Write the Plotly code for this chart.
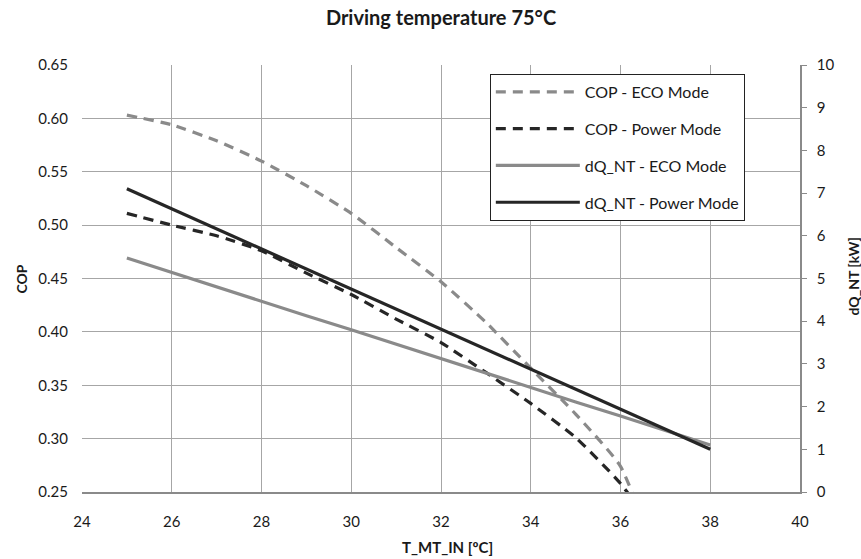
import plotly.graph_objects as go

temps = [25, 26, 27, 28, 29, 30, 31, 32, 33, 34, 35, 36, 37]
cop_eco = [0.603, 0.594, 0.579, 0.560, 0.537, 0.511, 0.479, 0.447, 0.409, 0.366, 0.323, 0.274, 0.165]
cop_power = [0.511, 0.500, 0.490, 0.476, 0.455, 0.435, 0.412, 0.390, 0.362, 0.333, 0.301, 0.258, 0.200]

temps_q = [25, 26, 27, 28, 29, 30, 31, 32, 33, 34, 35, 36, 37, 38]
dq_eco = [5.48, 5.14, 4.81, 4.47, 4.13, 3.80, 3.46, 3.12, 2.79, 2.45, 2.11, 1.78, 1.44, 1.10]
dq_power = [7.10, 6.63, 6.16, 5.69, 5.22, 4.75, 4.28, 3.82, 3.35, 2.88, 2.41, 1.94, 1.47, 1.00]

x_ticks = [24, 26, 28, 30, 32, 34, 36, 38, 40]

GRAY = "#8a8a8a"
DARK = "#262626"
GRID = "#a6a6a6"
FONT = "Lato, Open Sans, sans-serif"
TXT = "#1a1a1a"

fig = go.Figure()
fig.add_trace(go.Scatter(x=temps, y=cop_eco, name="COP - ECO Mode", mode="lines",
                         line=dict(color=GRAY, width=3.2, dash="10px,7px", shape="spline", smoothing=0.5),
                         legendgroup="a"))
fig.add_trace(go.Scatter(x=temps, y=cop_power, name="COP - Power Mode", mode="lines",
                         line=dict(color=DARK, width=3.2, dash="10px,7px", shape="spline", smoothing=0.5),
                         legendgroup="b"))
fig.add_trace(go.Scatter(x=temps_q, y=dq_eco, name="dQ_NT - ECO Mode", mode="lines",
                         line=dict(color=GRAY, width=3.2), yaxis="y2", legendgroup="c"))
fig.add_trace(go.Scatter(x=temps_q, y=dq_power, name="dQ_NT - Power Mode", mode="lines",
                         line=dict(color=DARK, width=3.2), yaxis="y2", legendgroup="d"))

fig.update_layout(
    width=861, height=559,
    paper_bgcolor="white", plot_bgcolor="white",
    margin=dict(l=82, r=61, t=65, b=67, autoexpand=False),
    font=dict(family=FONT, size=15, color=TXT),
    title=dict(text="<b>Driving temperature 75°C</b>", x=0.5, xanchor="center", xref="paper",
               y=1 - 18 / 559, yanchor="middle", font=dict(size=20, family=FONT, color=TXT)),
    showlegend=True,
    legend=dict(x=0.568, y=0.979, xanchor="left", yanchor="top",
                bgcolor="white", bordercolor="#222222", borderwidth=1,
                font=dict(size=16, family=FONT, color=TXT),
                tracegroupgap=13, itemwidth=84),
    xaxis=dict(range=[24, 40], tickvals=x_ticks, showgrid=True, gridcolor=GRID, gridwidth=1,
               showline=True, linecolor="#8a8a8a", linewidth=1.5, zeroline=False,
               ticks="", ticklabelstandoff=15, automargin=False),
    yaxis=dict(range=[0.25, 0.65], dtick=0.05, tickformat=".2f", showgrid=True, gridcolor=GRID,
               gridwidth=1, showline=False, zeroline=False, ticks="", ticklabelstandoff=13,
               automargin=False),
    yaxis2=dict(range=[0, 10], dtick=1, overlaying="y", side="right", showgrid=False,
                showline=True, linecolor="#8a8a8a", linewidth=1.5, zeroline=False,
                ticks="outside", ticklen=5, tickcolor="#8a8a8a", ticklabelstandoff=7,
                automargin=False),
    annotations=[
        dict(text="<b>T_MT_IN [ºC]</b>", xref="paper", yref="paper", x=0.5, y=0,
             xanchor="center", yanchor="middle", xshift=6, yshift=-55, showarrow=False,
             font=dict(size=15, family=FONT, color=TXT)),
        dict(text="<b>COP</b>", xref="paper", yref="paper", x=0, y=0.5, textangle=-90,
             xanchor="center", yanchor="middle", xshift=-61, yshift=-1, showarrow=False,
             font=dict(size=14, family=FONT, color=TXT)),
        dict(text="<b>dQ_NT [kW]</b>", xref="paper", yref="paper", x=1, y=0.5, textangle=-90,
             xanchor="center", yanchor="middle", xshift=53, yshift=2, showarrow=False,
             font=dict(size=14, family=FONT, color=TXT)),
    ],
)

fig.write_html("out.html", config={"displayModeBar": False},
               post_script="document.body.style.margin='0px';")
